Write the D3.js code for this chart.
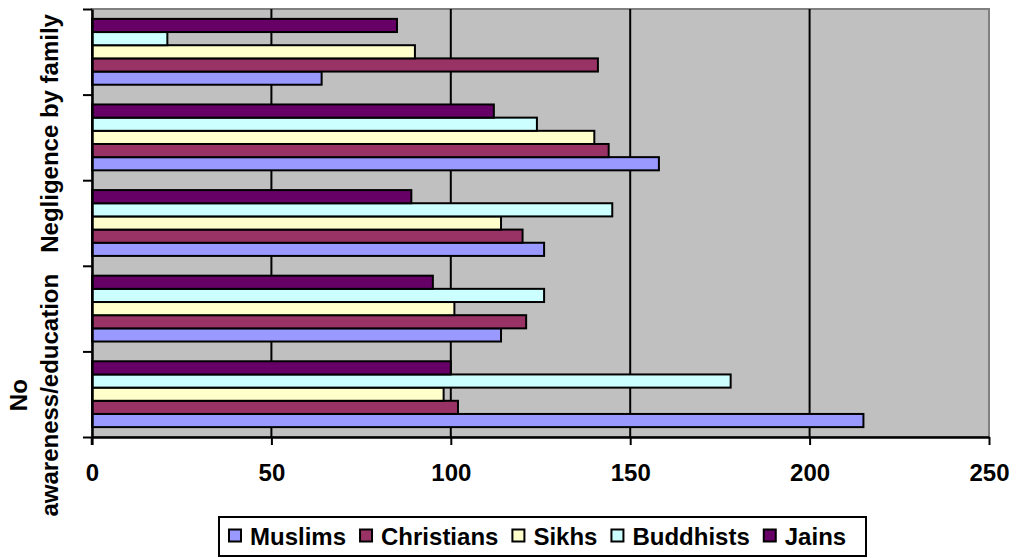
<!DOCTYPE html>
<html>
<head>
<meta charset="utf-8">
<script src="https://cdn.jsdelivr.net/npm/d3@7"></script>
<style>
  html, body { margin: 0; padding: 0; background: #ffffff; }
  svg { display: block; font-family: "Liberation Sans", Arial, sans-serif; font-weight: bold; }
</style>
</head>
<body>
<svg id="chart" width="1022" height="558"></svg>
<script>
// Reasons, bottom to top; only some category labels are printed on the axis
const categoryLabels = ["No awareness/education", "", "", "Negligence by family", ""];
const series = ["Muslims", "Christians", "Sikhs", "Buddhists", "Jains"];
const colors = ["#9999FF", "#993366", "#FFFFCC", "#CCFFFF", "#660066"];

const muslims    = [215, 114, 126, 158, 64];
const christians = [102, 121, 120, 144, 141];
const sikhs      = [98, 101, 114, 140, 90];
const buddhists  = [178, 126, 145, 124, 21];
const jains      = [100, 95, 89, 112, 85];

const xTicks = [0, 50, 100, 150, 200, 250];

const values = [muslims, christians, sikhs, buddhists, jains];

const svg = d3.select("#chart");
const plot = { left: 92, right: 989, top: 9, bottom: 437 };
const fontSize = 24;

const x = d3.scaleLinear().domain([0, 250]).range([plot.left, plot.right]);
const idx = d3.range(categoryLabels.length);
const y = d3.scaleBand().domain(idx).range([plot.bottom, plot.top])
  .paddingInner(1.5 / 6.5).paddingOuter(0.75 / 6.5);
// series stacked upward inside a band: Muslims lowest, Jains highest
const ys = d3.scaleBand().domain(d3.range(series.length)).range([y.bandwidth(), 0]);
const yEdge = d3.scaleLinear().domain([0, categoryLabels.length]).range([plot.bottom, plot.top]);

// plot background
svg.append("rect")
  .attr("x", plot.left).attr("y", plot.top)
  .attr("width", plot.right - plot.left).attr("height", plot.bottom - plot.top)
  .attr("fill", "#C0C0C0").attr("stroke", "#808080").attr("stroke-width", 2);

// vertical gridlines
svg.append("g").selectAll("line")
  .data(xTicks.filter(t => t > 0 && t < 250))
  .join("line")
  .attr("x1", d => x(d)).attr("x2", d => x(d))
  .attr("y1", plot.top).attr("y2", plot.bottom)
  .attr("stroke", "#000").attr("stroke-width", 2);

// bars
const groups = svg.append("g").selectAll("g")
  .data(idx)
  .join("g")
  .attr("transform", i => `translate(0,${y(i)})`);

groups.selectAll("rect")
  .data(i => series.map((s, k) => ({ k, v: values[k][i] })))
  .join("rect")
  .attr("x", x(0))
  .attr("y", d => ys(d.k))
  .attr("width", d => x(d.v) - x(0))
  .attr("height", ys.bandwidth())
  .attr("fill", d => colors[d.k])
  .attr("stroke", "#000")
  .attr("stroke-width", 2);

// x axis
const xAxis = svg.append("g")
  .attr("transform", `translate(0,${plot.bottom})`)
  .call(d3.axisBottom(x).tickValues(xTicks).tickSize(8).tickPadding(19).tickSizeOuter(0));
xAxis.select(".domain").attr("stroke", "#000").attr("stroke-width", 2.5);
xAxis.selectAll(".tick line").attr("stroke", "#000").attr("stroke-width", 2);
xAxis.selectAll(".tick text")
  .attr("fill", "#000")
  .style("font-size", fontSize + "px")
  .style("font-family", "'Liberation Sans', Arial, sans-serif")
  .style("font-weight", "bold");

// y axis (tick marks at category boundaries)
const yAxis = svg.append("g")
  .attr("transform", `translate(${plot.left},0)`)
  .call(d3.axisLeft(yEdge).tickValues(d3.range(categoryLabels.length + 1)).tickSize(9).tickFormat("").tickSizeOuter(0));
yAxis.select(".domain").attr("stroke", "#000").attr("stroke-width", 2.5);
yAxis.selectAll(".tick line").attr("stroke", "#000").attr("stroke-width", 2);
yAxis.append("line")
  .attr("x1", 0).attr("x2", 0).attr("y1", plot.bottom).attr("y2", plot.bottom + 8)
  .attr("stroke", "#000").attr("stroke-width", 2.5);

// rotated category labels
const lineGap = 31;
idx.filter(i => categoryLabels[i] !== "").forEach(i => {
  const words = categoryLabels[i].split(" ");
  const lines = (words.length === 2 && categoryLabels[i].length > 20) ? words : [categoryLabels[i]];
  const cy = y(i) + y.bandwidth() / 2 - (i === 0 ? -1 : 4);
  const lastBaseline = 58;
  lines.forEach((ln, j) => {
    const bx = lastBaseline - (lines.length - 1 - j) * lineGap;
    svg.append("text")
      .attr("transform", `translate(${bx},${cy}) rotate(-90)`)
      .attr("text-anchor", "middle")
      .style("font-size", fontSize + "px")
      .attr("fill", "#000")
      .text(ln);
  });
});

// legend
const legend = { left: 219, right: 866, top: 517, bottom: 556 };
svg.append("rect")
  .attr("x", legend.left).attr("y", legend.top)
  .attr("width", legend.right - legend.left).attr("height", legend.bottom - legend.top)
  .attr("fill", "#fff").attr("stroke", "#000").attr("stroke-width", 2);

const lg = svg.append("g");
const markerSize = 12, markerGap = 9, itemGap = 14;
let cursor = 0;
const items = series.map((s, k) => {
  const t = lg.append("text")
    .style("font-size", fontSize + "px")
    .attr("fill", "#000")
    .text(s);
  const w = t.node().getComputedTextLength();
  const item = { k, t, start: cursor, w };
  cursor += markerSize + markerGap + w + itemGap;
  return item;
});
const total = cursor - itemGap;
const lx0 = legend.left + 10;
const lcy = (legend.top + legend.bottom) / 2;
items.forEach(it => {
  const mx = lx0 + it.start;
  lg.append("rect")
    .attr("x", mx).attr("y", lcy - markerSize / 2 - 1)
    .attr("width", markerSize).attr("height", markerSize)
    .attr("fill", colors[it.k]).attr("stroke", "#000").attr("stroke-width", 2);
  it.t.attr("x", mx + markerSize + markerGap).attr("y", lcy + fontSize * 0.36);
});
</script>
</body>
</html>
